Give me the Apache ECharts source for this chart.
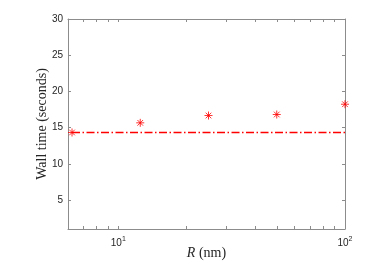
<!DOCTYPE html>
<html>
<head>
<meta charset="utf-8">
<script src="https://cdn.jsdelivr.net/npm/echarts@6/dist/echarts.min.js"></script>
<style>html,body{margin:0;padding:0;background:#fff}#c{width:374px;height:280px}</style>
</head>
<body>
<div id="c"></div>
<script>
// Data
var radii = [6.25, 12.5, 25, 50, 100];
var wallTimes = [14.33, 15.66, 16.67, 16.81, 18.23];
var referenceLine = [[6.25, 14.33], [100, 14.33]];
var xTickValues = [6, 7, 8, 9, 10, 20, 30, 40, 50, 60, 70, 80, 90, 100];
var xLabelValues = [10, 100];
var yTickValues = [5, 10, 15, 20, 25, 30];

var axisColor = '#8c8c8c';
var textColor = '#262626';
var asterisk = 'path://M0,-10L0,10M-10,0L10,0M-7.07,-7.07L7.07,7.07M-7.07,7.07L7.07,-7.07';

var xBase = {
  type: 'log', logBase: 10, min: 6, max: 100,
  axisLine: {show: true, lineStyle: {color: axisColor, width: 1}},
  axisTick: {show: true, inside: true, length: 3, customValues: xTickValues, lineStyle: {color: axisColor}},
  splitLine: {show: false}, minorTick: {show: false}
};
var yBase = {
  type: 'value', min: 1, max: 30,
  axisLine: {show: true, lineStyle: {color: axisColor, width: 1}},
  axisTick: {show: true, inside: true, length: 3, customValues: yTickValues, lineStyle: {color: axisColor}},
  splitLine: {show: false}
};

var chart = echarts.init(document.getElementById('c'), null, {renderer: 'canvas'});
chart.setOption({
  animation: false,
  grid: {left: 68, right: 29, top: 19, bottom: 51, containLabel: false},
  xAxis: [
    Object.assign({}, xBase, {
      position: 'bottom',
      axisLabel: {
        customValues: xLabelValues, margin: 7, color: textColor,
        fontFamily: 'Liberation Sans', fontSize: 10,
        formatter: function (v) { return '10{sup|' + Math.round(Math.log10(v)) + '}'; },
        rich: {sup: {fontSize: 7, verticalAlign: 'bottom', padding: [0, 0, 7, 0], fontFamily: 'Liberation Sans', color: textColor}}
      },
      name: '{i|R} (nm)', nameLocation: 'middle', nameGap: 17, nameMoveOverlap: false,
      nameTextStyle: {fontFamily: 'Liberation Serif', fontSize: 14, color: textColor,
        rich: {i: {fontStyle: 'italic', fontFamily: 'Liberation Serif', fontSize: 14, color: textColor}}}
    }),
    Object.assign({}, xBase, {position: 'top', axisLabel: {show: false}})
  ],
  yAxis: [
    Object.assign({}, yBase, {
      position: 'left',
      axisLabel: {customValues: yTickValues, margin: 5, color: textColor, fontFamily: 'Liberation Sans', fontSize: 10},
      name: 'Wall time (seconds)', nameLocation: 'middle', nameGap: 19, nameMoveOverlap: false,
      nameTextStyle: {fontFamily: 'Liberation Serif', fontSize: 14, color: textColor}
    }),
    Object.assign({}, yBase, {position: 'right', axisLabel: {show: false}})
  ],
  series: [
    {
      type: 'line', data: referenceLine, symbol: 'none', silent: true,
      lineStyle: {color: '#ff0000', width: 1.5, type: [8, 2.5, 1.5, 2.5]}
    },
    {
      type: 'scatter', data: radii.map(function (r, i) { return [r, wallTimes[i]]; }),
      symbol: asterisk, symbolSize: 8, clip: false,
      itemStyle: {color: 'none', borderColor: '#ff0000', borderWidth: 1}
    }
  ]
});
</script>
</body>
</html>
